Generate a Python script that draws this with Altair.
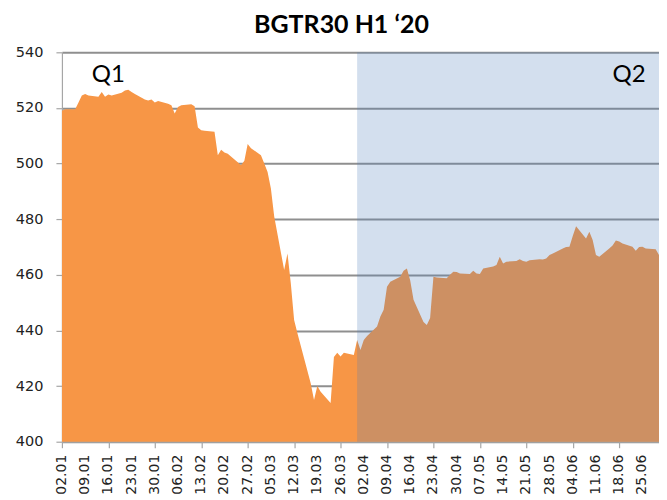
import altair as alt
import pandas as pd

# ---- data ----
dates = [
    "2020-01-02", "2020-01-03", "2020-01-06", "2020-01-07", "2020-01-08", "2020-01-09", "2020-01-10",
    "2020-01-13", "2020-01-14", "2020-01-15", "2020-01-16", "2020-01-17", "2020-01-20", "2020-01-21",
    "2020-01-22", "2020-01-23", "2020-01-24", "2020-01-27", "2020-01-28", "2020-01-29", "2020-01-30",
    "2020-01-31", "2020-02-03", "2020-02-04", "2020-02-05", "2020-02-06", "2020-02-07", "2020-02-10",
    "2020-02-11", "2020-02-12", "2020-02-13", "2020-02-14", "2020-02-17", "2020-02-18", "2020-02-19",
    "2020-02-20", "2020-02-21", "2020-02-24", "2020-02-25", "2020-02-26", "2020-02-27", "2020-02-28",
    "2020-03-02", "2020-03-03", "2020-03-04", "2020-03-05", "2020-03-06", "2020-03-09", "2020-03-10",
    "2020-03-11", "2020-03-12", "2020-03-13", "2020-03-16", "2020-03-17", "2020-03-18", "2020-03-19",
    "2020-03-20", "2020-03-23", "2020-03-24", "2020-03-25", "2020-03-26", "2020-03-27", "2020-03-30",
    "2020-03-31", "2020-04-01", "2020-04-02", "2020-04-03", "2020-04-06", "2020-04-07", "2020-04-08",
    "2020-04-09", "2020-04-10", "2020-04-13", "2020-04-14", "2020-04-15", "2020-04-16", "2020-04-17",
    "2020-04-20", "2020-04-21", "2020-04-22", "2020-04-23", "2020-04-24", "2020-04-27", "2020-04-28",
    "2020-04-29", "2020-04-30", "2020-05-01", "2020-05-04", "2020-05-05", "2020-05-06", "2020-05-07",
    "2020-05-08", "2020-05-11", "2020-05-12", "2020-05-13", "2020-05-14", "2020-05-15", "2020-05-18",
    "2020-05-19", "2020-05-20", "2020-05-21", "2020-05-22", "2020-05-25", "2020-05-26", "2020-05-27",
    "2020-05-28", "2020-05-29", "2020-06-01", "2020-06-02", "2020-06-03", "2020-06-04", "2020-06-05",
    "2020-06-08", "2020-06-09", "2020-06-10", "2020-06-11", "2020-06-12", "2020-06-15", "2020-06-16",
    "2020-06-17", "2020-06-18", "2020-06-19", "2020-06-22", "2020-06-23", "2020-06-24", "2020-06-25",
    "2020-06-26", "2020-06-29", "2020-06-30",
]
values = [
    519.0, 519.5, 519.5, 522.0, 524.5, 525.0, 524.5,
    524.0, 525.7, 524.0, 524.8, 524.5, 525.5, 526.3,
    526.5, 525.7, 525.0, 523.0, 522.7, 523.0, 522.0,
    522.5, 521.5, 521.0, 518.0, 520.3, 521.0, 521.3,
    520.6, 513.0, 512.0, 511.8, 511.4, 503.0, 505.0,
    504.0, 503.5, 500.5, 499.4, 501.0, 507.0, 505.5,
    503.0, 500.0, 497.0, 491.0, 481.0, 461.7, 467.7,
    457.0, 443.8, 439.0, 425.5, 421.0, 415.0, 420.0,
    418.0, 413.9, 430.5, 432.0, 430.6, 432.0, 431.2,
    436.6, 433.0, 436.6, 438.0, 441.4, 445.0, 447.4,
    455.7, 457.5, 459.3, 461.5, 462.3, 458.0, 451.0,
    443.0, 442.0, 444.5, 459.3, 459.0, 458.8, 460.0,
    461.1, 461.0, 460.5, 460.3, 461.5, 460.5, 460.3,
    462.3, 463.0, 463.5, 466.5, 464.1, 464.7, 465.0,
    465.6, 465.0, 464.7, 465.2, 465.6, 465.5, 465.9,
    467.1, 467.7, 469.5, 470.0, 470.1, 474.0, 477.5,
    473.1, 475.5, 472.5, 467.1, 466.5, 469.5, 470.5,
    472.3, 472.0, 471.3, 470.1, 468.7, 470.0, 470.1,
    469.5, 469.2, 467.1,
]

tick_dates = [
    "2020-01-02", "2020-01-09", "2020-01-16", "2020-01-23", "2020-01-30", "2020-02-06",
    "2020-02-13", "2020-02-20", "2020-02-27", "2020-03-05", "2020-03-12", "2020-03-19",
    "2020-03-26", "2020-04-02", "2020-04-09", "2020-04-16", "2020-04-23", "2020-04-30",
    "2020-05-07", "2020-05-14", "2020-05-21", "2020-05-28", "2020-06-04", "2020-06-11",
    "2020-06-18", "2020-06-25",
]
x_domain = ["2020-01-02", "2020-06-30"]
y_domain = [400, 540]
y_ticks = [400, 420, 440, 460, 480, 500, 520, 540]

q2_start = ["2020-03-31"]
q2_end = ["2020-06-30"]

labels = ["Q1", "Q2"]
label_dates = ["2020-01-16", "2020-06-21"]
label_values = [532, 532]

title_text = "BGTR30 H1 \u201820"


def dt(s):
    y, m, d = (int(p) for p in s.split("-"))
    return alt.DateTime(year=y, month=m, date=d)


df = pd.DataFrame({"date": pd.to_datetime(dates), "value": values})
shade = pd.DataFrame({"start": pd.to_datetime(q2_start), "end": pd.to_datetime(q2_end),
                      "lo": [y_domain[0]], "hi": [y_domain[1]]})
txt = pd.DataFrame({"date": pd.to_datetime(label_dates), "value": label_values, "label": labels})
ticks_df = pd.DataFrame({"date": pd.to_datetime(tick_dates)})

xscale = alt.Scale(domain=[dt(s) for s in x_domain])
yscale = alt.Scale(domain=y_domain, nice=False, zero=False)

x_axis = alt.Axis(values=[dt(s) for s in tick_dates], labels=False,
                  tickSize=6, grid=False, title=None,
                  domainColor="#a6a6a6", tickColor="#a6a6a6", domainWidth=1.2, tickWidth=1.2)
y_axis = alt.Axis(values=y_ticks, grid=True, gridColor="#8f8f8f", gridWidth=2,
                  tickSize=6, labelPadding=13, title=None,
                  labelFont="DejaVu Sans", labelFontSize=14.5, labelColor="#222222",
                  domainColor="#a6a6a6", tickColor="#a6a6a6", domainWidth=1.2, tickWidth=1.2)

area = alt.Chart(df).mark_area(color="#F79646", opacity=1, clip=True).encode(
    x=alt.X("date:T", scale=xscale, axis=x_axis),
    y=alt.Y("value:Q", scale=yscale, axis=y_axis),
)

rect = alt.Chart(shade).mark_rect(color="#4F81BD", opacity=0.25).encode(
    x=alt.X("start:T", scale=xscale),
    x2="end:T",
    y=alt.Y("lo:Q", scale=yscale),
    y2="hi:Q",
)

text = alt.Chart(txt).mark_text(font="Lato", fontSize=24, color="#000000",
                                align="center", baseline="middle").encode(
    x=alt.X("date:T", scale=xscale),
    y=alt.Y("value:Q", scale=yscale),
    text="label:N",
)

# x tick labels (rotated), anchored at the bottom of the y scale
xlabels = alt.Chart(ticks_df).mark_text(font="DejaVu Sans", fontSize=14, color="#222222",
                                        angle=270, align="right", baseline="middle",
                                        dx=-13).encode(
    x=alt.X("date:T", scale=xscale),
    y=alt.datum(y_domain[0]),
    text=alt.Text("date:T", format="%d.%m"),
)

chart = alt.layer(area, rect, text, xlabels).properties(
    width=598,
    height=390,
    padding={"left": 54, "top": 44, "right": 0, "bottom": 58},
    autosize=alt.AutoSizeParams(type="none"),
    title=alt.TitleParams(title_text, font="Lato", fontSize=25, fontWeight="bold",
                          color="#000000", anchor="middle", dx=-19, offset=6),
).configure_view(strokeWidth=0)

chart.save("out.html", embed_options={"renderer": "svg", "actions": False})
